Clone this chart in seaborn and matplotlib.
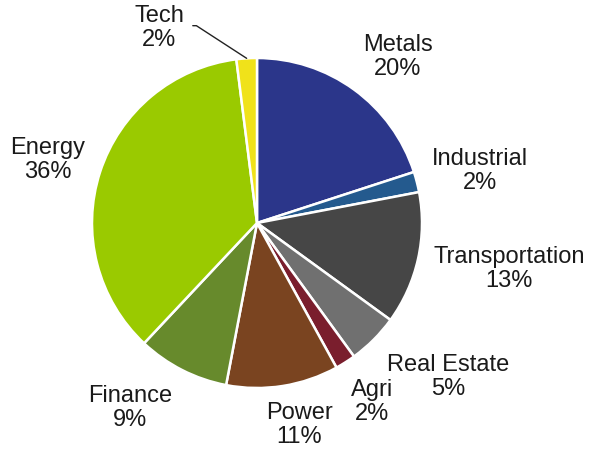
import numpy as np
import matplotlib
matplotlib.use("Agg")
import matplotlib.pyplot as plt
import seaborn as sns

sectors = ["Metals", "Industrial", "Transportation", "Real Estate", "Agri",
           "Power", "Finance", "Energy", "Tech"]
shares = [20, 2, 13, 5, 2, 11, 9, 36, 2]
colors = ["#2B368A", "#245A8E", "#464646", "#707070", "#7A1E2D",
          "#7A4420", "#678A2C", "#9ACA00", "#F0E21A"]
# label anchor points (pixels, from top-left of the picture)
label_xy = [(398, 57), (480, 171), (509, 269), (448, 377), (372, 402),
            (299, 425), (130, 408), (48, 160), (159, 28)]

sns.set_theme(style="white")
plt.rcParams["font.family"] = ["Liberation Sans", "DejaVu Sans"]

W, H = 589, 450
fig = plt.figure(figsize=(W / 100, H / 100), dpi=100)
ax = fig.add_axes([0, 0, 1, 1])
ax.set_aspect("equal")
ax.axis("off")

cx, cy, r = 257, H - 223, 165
wedges, _ = ax.pie(shares, colors=colors, startangle=90, counterclock=False,
                   center=(cx, cy), radius=r,
                   wedgeprops=dict(edgecolor="white", linewidth=1.8))
ax.set_xlim(0, W)
ax.set_ylim(0, H)

for w, name, val, (lx, ly) in zip(wedges, sectors, shares, label_xy):
    txt = f"{name}\n{val}%"
    style = dict(ha="center", va="center", fontsize=17, color="#1a1a1a",
                 linespacing=1.13)
    if name == "Tech":
        mid = np.deg2rad((w.theta1 + w.theta2) / 2)
        ex, ey = cx + r * np.cos(mid), cy + r * np.sin(mid)
        ax.annotate(txt, xy=(ex, ey), xytext=(lx, H - ly), **style,
                    arrowprops=dict(arrowstyle="-", color="#222222", lw=1,
                                    shrinkA=4, shrinkB=0,
                                    connectionstyle="angle,angleA=0,angleB=-33,rad=0",
                                    relpos=(1.0, 0.55)))
    else:
        ax.text(lx, H - ly, txt, **style)

fig.savefig("out.png", dpi=100)
